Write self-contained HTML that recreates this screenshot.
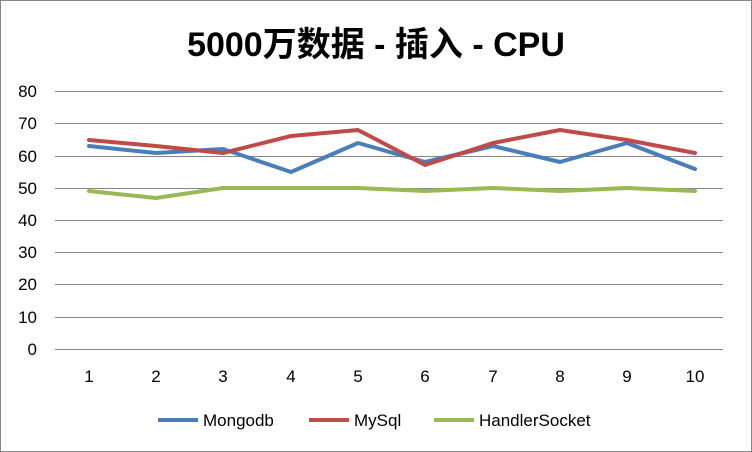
<!DOCTYPE html>
<html><head><meta charset="utf-8"><style>
html,body{margin:0;padding:0;background:#fff}
svg{display:block}
</style></head><body>
<svg width="752" height="452" xmlns="http://www.w3.org/2000/svg" font-family="Liberation Sans, 'Noto Sans CJK SC', sans-serif">
<rect x="0.5" y="0.5" width="751" height="451" fill="#fff" stroke="#868686"/>
<text x="376" y="56" text-anchor="middle" font-size="34" font-weight="bold" fill="#000">5000万数据 - 插入 - CPU</text>
<g stroke="#868686" stroke-width="1">
<line x1="55" y1="91.5" x2="723" y2="91.5"/>
<line x1="55" y1="123.5" x2="723" y2="123.5"/>
<line x1="55" y1="156.5" x2="723" y2="156.5"/>
<line x1="55" y1="188.5" x2="723" y2="188.5"/>
<line x1="55" y1="220.5" x2="723" y2="220.5"/>
<line x1="55" y1="252.5" x2="723" y2="252.5"/>
<line x1="55" y1="284.5" x2="723" y2="284.5"/>
<line x1="55" y1="317.5" x2="723" y2="317.5"/>
<line x1="55" y1="349.5" x2="723" y2="349.5"/>
</g>
<g font-size="17" fill="#000" text-anchor="end">
<text x="37" y="97">80</text><text x="37" y="129">70</text><text x="37" y="162">60</text>
<text x="37" y="194">50</text><text x="37" y="226">40</text><text x="37" y="258">30</text>
<text x="37" y="290">20</text><text x="37" y="323">10</text><text x="37" y="355">0</text>
</g>
<g font-size="17" fill="#000" text-anchor="middle">
<text x="89" y="382">1</text><text x="156" y="382">2</text><text x="223" y="382">3</text>
<text x="291" y="382">4</text><text x="358" y="382">5</text><text x="425" y="382">6</text>
<text x="493" y="382">7</text><text x="560" y="382">8</text><text x="627" y="382">9</text>
<text x="695" y="382">10</text>
</g>
<g fill="none" stroke-width="4" stroke-linejoin="round" stroke-linecap="round">
<polyline stroke="#4a7ebb" points="89,146 156,153 223,149 291,172 358,143 425,162 493,146 560,162 627,143 695,169"/>
<polyline stroke="#be4b48" points="89,140 156,146 223,153 291,136 358,130 425,165 493,143 560,130 627,140 695,153"/>
<polyline stroke="#98b954" points="89,191 156,198 223,188 291,188 358,188 425,191 493,188 560,191 627,188 695,191"/>
</g>
<g font-size="17" fill="#000">
<line x1="158" y1="420" x2="198" y2="420" stroke="#4a7ebb" stroke-width="4"/>
<text x="203" y="426">Mongodb</text>
<line x1="309" y1="420" x2="349" y2="420" stroke="#be4b48" stroke-width="4"/>
<text x="354" y="426">MySql</text>
<line x1="434" y1="420" x2="474" y2="420" stroke="#98b954" stroke-width="4"/>
<text x="479" y="426">HandlerSocket</text>
</g>
</svg>
</body></html>
